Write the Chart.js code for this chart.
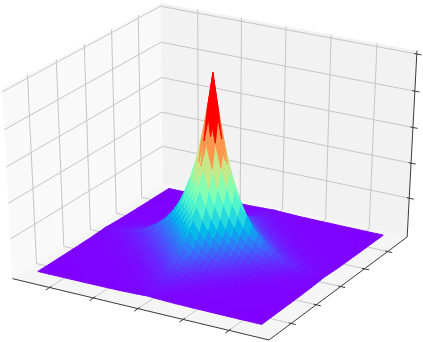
<!DOCTYPE html>
<html>
<head>
<meta charset="utf-8">
<script src="https://cdn.jsdelivr.net/npm/chart.js@4"></script>
<style>
html, body { margin: 0; padding: 0; background: #fff; }
canvas { display: block; }
</style>
</head>
<body>
<canvas id="surfaceChart" width="423" height="342"></canvas>
<script>
// heights, by number of grid steps (along x plus along y) from the peak
const zBySteps = [1,.799,.638,.509,.407,.325,.259,.207,.165,.132,.105,.084,.066,.05,.04,.03,.024,.018,.014,.01,.008,.006,.005,.004,.003,.002,.002,.0015,.001,.001,.001,.0007,.0005,.0004,.0003,.0003,.0002,.0002,.0001,.0001,.0001];
const gridX = [-5,-4.75,-4.5,-4.25,-4,-3.75,-3.5,-3.25,-3,-2.75,-2.5,-2.25,-2,-1.75,-1.5,-1.25,-1,-.75,-.5,-.25,0,.25,.5,.75,1,1.25,1.5,1.75,2,2.25,2.5,2.75,3,3.25,3.5,3.75,4,4.25,4.5,4.75,5];
const gridY = gridX;
const xTicks = [-4,-2,0,2,4];
const yTicks = [-4,-2,0,2,4];
const zTicks = [.2,.4,.6,.8,1];
const xLim = [-5.72,5.72];
const yLim = [-5.72,5.72];
const zLim = [-.026,1.018];

// view: elev 30, azim -60, eye at distance 10 from a unit cube
const U = [.866,.5,0];
const V = [-.25,.433,.866];
const W = [.433,-.75,.5];
const DIST = 10;

function project(x, y, z) {
  const p = [
    ((x-xLim[0])/(xLim[1]-xLim[0])-.5),
    ((y-yLim[0])/(yLim[1]-yLim[0])-.5),
    ((z-zLim[0])/(zLim[1]-zLim[0])-.5)
  ];
  const dot = a => a[0]*p[0]+a[1]*p[1]+a[2]*p[2];
  const depth = DIST-dot(W);
  return {x: dot(U)/depth, y: dot(V)/depth, depth: depth};
}

function heightAt(i, j) {
  return zBySteps[Math.abs(i-20)+Math.abs(j-20)];
}

function rainbow(t) {
  const c = v => Math.round(255*Math.min(1,Math.max(0,v)));
  return "rgb("+c(Math.abs(2*t-.5))+","+c(Math.sin(Math.PI*t))+","+c(Math.cos(Math.PI*t/2))+")";
}

function shape(pts, fillColor, borderWidth) {
  return {data: pts.concat([pts[0]]), showLine: true, fill: "shape", backgroundColor: fillColor,
    borderColor: fillColor, borderWidth: borderWidth, borderJoinStyle: "round", pointRadius: 0, clip: false, tension: 0};
}
function line(pts, color, width) {
  return {data: pts, showLine: true, fill: false, borderColor: color, borderWidth: width,
    pointRadius: 0, clip: false, tension: 0};
}

const [x0,x1] = xLim, [y0,y1] = yLim, [z0,z1] = zLim;
const layers = [];

// panes
layers.push(shape([project(x0,y0,z0),project(x0,y1,z0),project(x0,y1,z1),project(x0,y0,z1)], "#f9f9f9", 0));
layers.push(shape([project(x0,y1,z0),project(x1,y1,z0),project(x1,y1,z1),project(x0,y1,z1)], "#f2f2f2", 0));
layers.push(shape([project(x0,y0,z0),project(x1,y0,z0),project(x1,y1,z0),project(x0,y1,z0)], "#f5f5f5", 0));

// grid
const gridColor = "#c6c6c6";
xTicks.forEach(x => layers.push(line([project(x,y0,z0),project(x,y1,z0),project(x,y1,z1)], gridColor, 1)));
yTicks.forEach(y => layers.push(line([project(x0,y,z1),project(x0,y,z0),project(x1,y,z0)], gridColor, 1)));
zTicks.forEach(z => layers.push(line([project(x0,y0,z),project(x0,y1,z),project(x1,y1,z)], gridColor, 1)));

// axis edges and ticks
const axisColor = "#3a3a3a";
layers.push(line([project(x0,y0,z0),project(x1,y0,z0),project(x1,y1,z0),project(x1,y1,z1)], axisColor, 1));
xTicks.forEach(x => layers.push(line([project(x,y0+.14,z0),project(x,y0-.28,z0)], axisColor, 1)));
yTicks.forEach(y => layers.push(line([project(x1-.11,y,z0),project(x1+.2,y,z0)], axisColor, 1)));
zTicks.forEach(z => layers.push(line([project(x1-.11,y1,z),project(x1+.2,y1,z)], axisColor, 1)));

// surface cells, coloured by their mean height and painted back to front
const cells = [];
for (let i = 0; i < gridX.length-1; i++) {
  for (let j = 0; j < gridY.length-1; j++) {
    const corners = [[i,j],[i+1,j],[i+1,j+1],[i,j+1]];
    const pts = corners.map(c => project(gridX[c[0]],gridY[c[1]],heightAt(c[0],c[1])));
    const mean = corners.reduce((s,c) => s+heightAt(c[0],c[1]),0)/4;
    const depth = pts.reduce((s,p) => s+p.depth,0)/4;
    cells.push({pts: pts, mean: mean, depth: depth});
  }
}
const meanLow = Math.min(...cells.map(c => c.mean));
const meanHigh = Math.max(...cells.map(c => c.mean));
cells.sort((a,b) => b.depth-a.depth);
cells.forEach(c => layers.push(shape(c.pts, rainbow((c.mean-meanLow)/(meanHigh-meanLow)), 1)));

new Chart(document.getElementById("surfaceChart"), {
  type: "scatter",
  data: {datasets: layers.reverse()},
  options: {
    responsive: false,
    animation: false,
    events: [],
    layout: {padding: 0},
    plugins: {legend: {display: false}, tooltip: {enabled: false}},
    scales: {
      x: {type: "linear", display: false, min: -.0719, max: .07096},
      y: {type: "linear", display: false, min: -.08113, max: .07625}
    }
  }
});
</script>
</body>
</html>
